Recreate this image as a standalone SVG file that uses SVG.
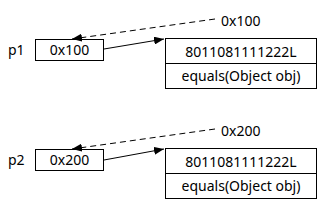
<svg xmlns="http://www.w3.org/2000/svg" width="324" height="213" viewBox="0 0 324 213">
<style>
text{font-family:"Noto Sans","DejaVu Sans",sans-serif;font-size:14px;fill:#000}
.c{text-anchor:middle}
rect,line.d{fill:#fff;stroke:#000;stroke-width:1}
.l{stroke:#000;stroke-width:1;fill:none}
.dash{stroke-dasharray:6 4}
</style>
<defs>
<marker id="ah" viewBox="0 0 10 8" refX="10" refY="4" markerWidth="10" markerHeight="8" markerUnits="userSpaceOnUse" orient="auto">
<path d="M0,0 L10,4 L0,8 Z" fill="#000"/>
</marker>
</defs>
<g id="p1">
<text x="8" y="55">p1</text>
<rect x="35.5" y="39.5" width="68" height="21"/>
<text class="c" x="69.5" y="55">0x100</text>
</g>
<g id="obj1">
<rect x="165.5" y="38.5" width="151" height="50"/>
<line class="l" x1="165.5" y1="63.5" x2="316.5" y2="63.5"/>
<text class="c" x="241" y="57">8011081111222L</text>
<text class="c" x="241" y="81">equals(Object obj)</text>
</g>
<g id="addr1">
<text x="221" y="26">0x100</text>
</g>
<g id="p2">
<text x="8" y="165">p2</text>
<rect x="35.5" y="149.5" width="68" height="21"/>
<text class="c" x="69.5" y="165">0x200</text>
</g>
<g id="obj2">
<rect x="165.5" y="148.5" width="151" height="50"/>
<line class="l" x1="165.5" y1="173.5" x2="316.5" y2="173.5"/>
<text class="c" x="241" y="167">8011081111222L</text>
<text class="c" x="241" y="191">equals(Object obj)</text>
</g>
<g id="addr2">
<text x="221" y="136">0x200</text>
</g>
<g id="connectors">
<line class="l dash" x1="215" y1="19" x2="72" y2="39" marker-end="url(#ah)"/>
<line class="l" x1="104" y1="49" x2="164" y2="39" marker-end="url(#ah)"/>
<line class="l dash" x1="215" y1="129" x2="72" y2="149" marker-end="url(#ah)"/>
<line class="l" x1="104" y1="160" x2="164" y2="149" marker-end="url(#ah)"/>
</g>
</svg>
